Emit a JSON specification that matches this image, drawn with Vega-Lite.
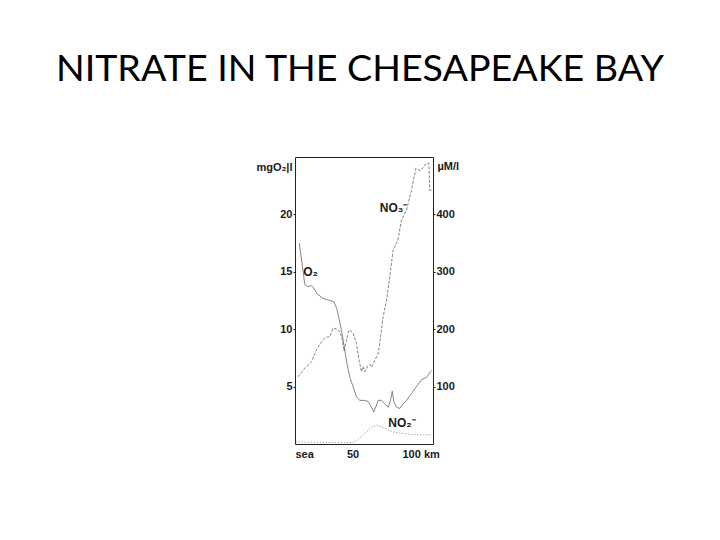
{
  "$schema": "https://vega.github.io/schema/vega-lite/v6.json",
  "autosize": "none",
  "width": 138,
  "height": 287,
  "padding": {"left": 295, "top": 157, "right": 287, "bottom": 96},
  "background": "white",
  "config": {
    "view": {"stroke": "#222", "strokeWidth": 1},
    "axis": {
      "labelFont": "Liberation Sans",
      "labelFontSize": 11,
      "labelFontWeight": "bold",
      "labelColor": "#1a1a1a",
      "titleFont": "Liberation Sans",
      "titleFontSize": 11,
      "titleFontWeight": "bold",
      "titleColor": "#1a1a1a",
      "domain": false,
      "grid": false,
      "tickColor": "#222",
      "tickSize": 2,
      "labelPadding": 1
    }
  },
  "title": {
    "text": "NITRATE IN THE CHESAPEAKE BAY",
    "font": "Lato",
    "fontSize": 37.6,
    "fontWeight": "normal",
    "color": "black",
    "anchor": "middle",
    "frame": "group",
    "baseline": "alphabetic",
    "offset": 38,
    "dx": -4
  },
  "datasets": {
    "o2": [
      {"km": 3.7, "mg": 17.5}, {"km": 5.9, "mg": 15.9}, {"km": 8.5, "mg": 13.9},
      {"km": 11.1, "mg": 13.7}, {"km": 14.2, "mg": 13.8}, {"km": 16.3, "mg": 13.6},
      {"km": 19.0, "mg": 13.1}, {"km": 24.2, "mg": 12.7}, {"km": 30.3, "mg": 12.5},
      {"km": 33.7, "mg": 12.4}, {"km": 36.3, "mg": 11.8}, {"km": 38.5, "mg": 10.8},
      {"km": 40.4, "mg": 9.9}, {"km": 41.8, "mg": 9.1}, {"km": 45.0, "mg": 7.1},
      {"km": 47.7, "mg": 5.8}, {"km": 50.5, "mg": 5.0}, {"km": 53.5, "mg": 4.1},
      {"km": 56.3, "mg": 3.8}, {"km": 60.7, "mg": 3.8}, {"km": 63.6, "mg": 3.7},
      {"km": 66.5, "mg": 3.2}, {"km": 68.5, "mg": 2.8}, {"km": 70.9, "mg": 3.4},
      {"km": 72.3, "mg": 3.8}, {"km": 75.2, "mg": 3.8}, {"km": 78.1, "mg": 3.5},
      {"km": 81.0, "mg": 3.2}, {"km": 83.0, "mg": 3.8}, {"km": 84.6, "mg": 4.6},
      {"km": 85.9, "mg": 3.7}, {"km": 88.3, "mg": 3.2}, {"km": 91.1, "mg": 3.1},
      {"km": 94.0, "mg": 3.5}, {"km": 97.0, "mg": 3.8}, {"km": 101.3, "mg": 4.4},
      {"km": 105.7, "mg": 5.0}, {"km": 110.0, "mg": 5.6}, {"km": 114.4, "mg": 5.8},
      {"km": 118.7, "mg": 6.4}
    ],
    "nitrogen": [
      {"km": 2.7, "um": 117, "series": "NO3"}, {"km": 8.5, "um": 132, "series": "NO3"},
      {"km": 14.3, "um": 143, "series": "NO3"}, {"km": 18.7, "um": 164, "series": "NO3"},
      {"km": 23.0, "um": 178, "series": "NO3"}, {"km": 26.8, "um": 186, "series": "NO3"},
      {"km": 30.3, "um": 187, "series": "NO3"}, {"km": 33.1, "um": 202, "series": "NO3"},
      {"km": 36.6, "um": 200, "series": "NO3"}, {"km": 39.0, "um": 196, "series": "NO3"},
      {"km": 40.7, "um": 185, "series": "NO3"}, {"km": 42.7, "um": 162, "series": "NO3"},
      {"km": 44.8, "um": 181, "series": "NO3"}, {"km": 47.0, "um": 199, "series": "NO3"},
      {"km": 50.5, "um": 193, "series": "NO3"}, {"km": 53.5, "um": 175, "series": "NO3"},
      {"km": 55.7, "um": 146, "series": "NO3"}, {"km": 57.8, "um": 126, "series": "NO3"},
      {"km": 59.2, "um": 135, "series": "NO3"}, {"km": 60.7, "um": 126, "series": "NO3"},
      {"km": 63.3, "um": 136, "series": "NO3"}, {"km": 65.0, "um": 139, "series": "NO3"},
      {"km": 66.5, "um": 134, "series": "NO3"}, {"km": 69.4, "um": 146, "series": "NO3"},
      {"km": 72.3, "um": 157, "series": "NO3"}, {"km": 73.7, "um": 176, "series": "NO3"},
      {"km": 76.6, "um": 221, "series": "NO3"}, {"km": 79.6, "um": 251, "series": "NO3"},
      {"km": 82.4, "um": 291, "series": "NO3"}, {"km": 85.3, "um": 338, "series": "NO3"},
      {"km": 89.4, "um": 355, "series": "NO3"}, {"km": 92.6, "um": 390, "series": "NO3"},
      {"km": 97.0, "um": 408, "series": "NO3"}, {"km": 101.3, "um": 442, "series": "NO3"},
      {"km": 105.0, "um": 480, "series": "NO3"}, {"km": 109.1, "um": 476, "series": "NO3"},
      {"km": 114.4, "um": 489, "series": "NO3"}, {"km": 116.4, "um": 489, "series": "NO3"},
      {"km": 117.2, "um": 442, "series": "NO3"}, {"km": 119.8, "um": 442, "series": "NO3"},
      {"km": 0.7, "um": 3.5, "series": "NO2"}, {"km": 15.7, "um": 3, "series": "NO2"},
      {"km": 49.1, "um": 2.3, "series": "NO2"}, {"km": 53.5, "um": 6, "series": "NO2"},
      {"km": 57.8, "um": 13, "series": "NO2"}, {"km": 62.2, "um": 21, "series": "NO2"},
      {"km": 66.5, "um": 29, "series": "NO2"}, {"km": 70.9, "um": 33, "series": "NO2"},
      {"km": 75.2, "um": 30, "series": "NO2"}, {"km": 79.6, "um": 26, "series": "NO2"},
      {"km": 85.3, "um": 21, "series": "NO2"}, {"km": 91.1, "um": 19, "series": "NO2"},
      {"km": 99.8, "um": 17, "series": "NO2"}, {"km": 108.5, "um": 16, "series": "NO2"},
      {"km": 118.7, "um": 16, "series": "NO2"}
    ],
    "labels": [
      {"km": 7.2, "mg": 15.0, "text": "O₂"},
      {"km": 73.7, "mg": 20.6, "text": "NO₃⁻"},
      {"km": 81.1, "mg": 1.8, "text": "NO₂⁻"}
    ]
  },
  "layer": [
    {
      "data": {"name": "o2"},
      "mark": {"type": "line", "color": "#666", "strokeWidth": 0.8},
      "encoding": {
        "x": {
          "field": "km",
          "type": "quantitative",
          "scale": {"domain": [0, 120], "nice": false},
          "axis": {
            "values": [0, 50, 100],
            "title": null,
            "tickSize": 0,
            "labelPadding": 4,
            "labelExpr": "datum.value == 0 ? 'sea' : datum.value == 100 ? '100 km' : datum.label",
            "labelAlign": {"condition": {"test": "datum.value == 50", "value": "center"}, "value": "left"},
            "labelOffset": {"condition": {"test": "datum.value == 100", "value": -8}, "value": 0}
          }
        },
        "y": {
          "field": "mg",
          "type": "quantitative",
          "scale": {"domain": [0, 25], "nice": false},
          "axis": {
            "orient": "left",
            "values": [5, 10, 15, 20],
            "title": "mgO₂|l",
            "titleAngle": 0,
            "titleAlign": "right",
            "titleBaseline": "middle",
            "titleX": -3,
            "titleY": 10
          }
        }
      }
    },
    {
      "data": {"name": "nitrogen"},
      "mark": {"type": "line", "color": "#666", "strokeWidth": 0.8},
      "encoding": {
        "x": {"field": "km", "type": "quantitative"},
        "y": {
          "field": "um",
          "type": "quantitative",
          "scale": {"domain": [0, 500], "nice": false},
          "axis": {
            "orient": "right",
            "values": [100, 200, 300, 400],
            "title": "µM/l",
            "titleAngle": 0,
            "titleAlign": "left",
            "titleBaseline": "middle",
            "titleX": 4,
            "titleY": 9
          }
        },
        "detail": {"field": "series"},
        "strokeDash": {
          "field": "series",
          "type": "nominal",
          "scale": {"domain": ["NO3", "NO2"], "range": [[3, 1.5], [1, 2]]},
          "legend": null
        }
      }
    },
    {
      "data": {"name": "labels"},
      "mark": {"type": "text", "align": "left", "baseline": "middle", "font": "Liberation Sans", "fontSize": 12, "fontWeight": "bold", "color": "#1a1a1a"},
      "encoding": {
        "x": {"field": "km", "type": "quantitative"},
        "y": {"field": "mg", "type": "quantitative", "scale": {"domain": [0, 25], "nice": false}, "axis": null},
        "text": {"field": "text"}
      }
    }
  ],
  "resolve": {"scale": {"y": "independent"}, "axis": {"y": "independent"}}
}
